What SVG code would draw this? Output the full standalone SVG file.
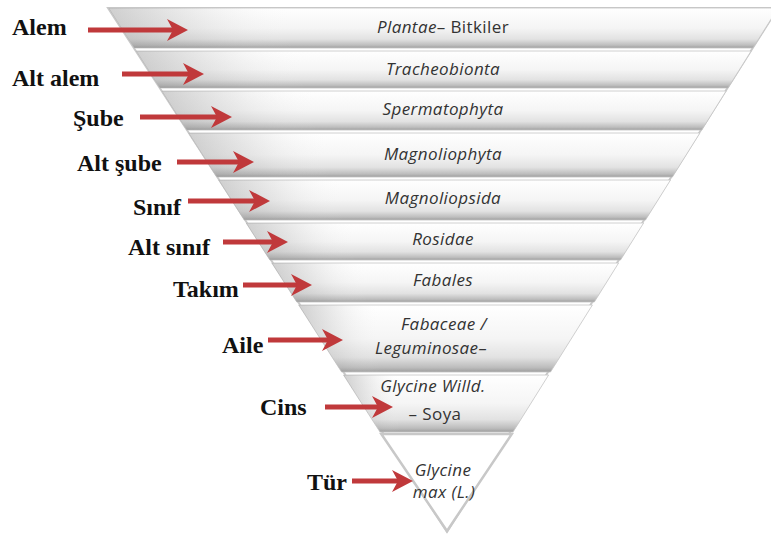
<svg xmlns="http://www.w3.org/2000/svg" width="771" height="537" viewBox="0 0 771 537">
<defs>
<linearGradient id="bandG" x1="0" y1="0" x2="0" y2="1">
<stop offset="0" stop-color="#ffffff"/>
<stop offset="0.5" stop-color="#f5f5f5"/>
<stop offset="0.78" stop-color="#e2e2e2"/>
<stop offset="0.93" stop-color="#bdbdbd"/>
<stop offset="1" stop-color="#9e9e9e"/>
</linearGradient>
<linearGradient id="leftG" x1="0" y1="0" x2="1" y2="0">
<stop offset="0" stop-color="#8a8a8a" stop-opacity="0.4"/>
<stop offset="0.15" stop-color="#9a9a9a" stop-opacity="0.12"/>
<stop offset="0.28" stop-color="#ffffff" stop-opacity="0"/>
</linearGradient>
<marker id="ah" markerUnits="userSpaceOnUse" markerWidth="24" markerHeight="24" viewBox="0 0 24 24" refX="12" refY="12" orient="auto">
<path d="M22,12 L1,1 L7,12 L1,23 Z" fill="#c0393b"/>
</marker>
</defs>
<style>
.band{fill:url(#bandG);stroke:#c4c4c4;stroke-width:0.8}
.shade{fill:url(#leftG)}
.lbl{font-family:"Liberation Serif","Times New Roman",serif;font-weight:bold;font-size:24px;fill:#111}
.tx{font-family:"Open Sans","Liberation Sans",sans-serif;font-style:italic;font-size:17px;letter-spacing:0.4px;fill:#333;text-anchor:middle}
.up{font-style:normal}
.arr{stroke:#c0393b;stroke-width:5;fill:none;marker-end:url(#ah)}
</style>
<rect width="771" height="537" fill="#ffffff"/>
<polygon points="108,8 778,8 447,532" fill="#ffffff" stroke="#c9c9c9" stroke-width="2"/>

<g id="n1"><polygon class="band" points="108.6,8 778,8 753,48 134.2,48"/><polygon class="shade" points="108.6,8 778,8 753,48 134.2,48"/><text class="tx" x="443" y="33">Plantae<tspan class="up">– Bitkiler</tspan></text></g>
<g id="n2"><polygon class="band" points="136.2,51 751.1,51 728,88 159.8,88"/><polygon class="shade" points="136.2,51 751.1,51 728,88 159.8,88"/><text class="tx" x="443" y="75">Tracheobionta</text></g>
<g id="n3"><polygon class="band" points="161.8,91 726.1,91 701.8,130 186.7,130"/><polygon class="shade" points="161.8,91 726.1,91 701.8,130 186.7,130"/><text class="tx" x="443" y="115">Spermatophyta</text></g>
<g id="n4"><polygon class="band" points="188.6,133 699.9,133 672.4,177 216.8,177"/><polygon class="shade" points="188.6,133 699.9,133 672.4,177 216.8,177"/><text class="tx" x="443" y="160">Magnoliophyta</text></g>
<g id="n5"><polygon class="band" points="218.7,180 670.5,180 645.5,220 244.3,220"/><polygon class="shade" points="218.7,180 670.5,180 645.5,220 244.3,220"/><text class="tx" x="443" y="204">Magnoliopsida</text></g>
<g id="n6"><polygon class="band" points="246.2,223 643.6,223 620.5,260 269.9,260"/><polygon class="shade" points="246.2,223 643.6,223 620.5,260 269.9,260"/><text class="tx" x="443" y="245">Rosidae</text></g>
<g id="n7"><polygon class="band" points="271.8,263 618.6,263 594.3,302 296.8,302"/><polygon class="shade" points="271.8,263 618.6,263 594.3,302 296.8,302"/><text class="tx" x="443" y="286">Fabales</text></g>
<g id="n8"><polygon class="band" points="298.7,305 592.4,305 550.5,372 341.6,372"/><polygon class="shade" points="298.7,305 592.4,305 550.5,372 341.6,372"/><text class="tx" x="444" y="330">Fabaceae /</text><text class="tx" x="431" y="354">Leguminosae–</text></g>
<g id="n9"><polygon class="band" points="343.5,375 548.6,375 513,432 380,432"/><polygon class="shade" points="343.5,375 548.6,375 513,432 380,432"/><text class="tx" x="433" y="392">Glycine Willd.</text><text class="tx" x="435" y="420"><tspan class="up">– Soya</tspan></text></g>
<g id="n10"><polygon points="381.3,434 511.8,434 447,531" fill="#ffffff" stroke="#c8c8c8" stroke-width="2.5"/><text class="tx" x="443" y="476">Glycine</text><text class="tx" x="444" y="498">max (L.)</text></g>

<g id="labels">
<text class="lbl" x="12" y="35">Alem</text>
<text class="lbl" x="12" y="86">Alt alem</text>
<text class="lbl" x="73" y="126">Şube</text>
<text class="lbl" x="77" y="171">Alt şube</text>
<text class="lbl" x="133" y="215">Sınıf</text>
<text class="lbl" x="128" y="255">Alt sınıf</text>
<text class="lbl" x="173" y="297">Takım</text>
<text class="lbl" x="222" y="353">Aile</text>
<text class="lbl" x="260" y="415">Cins</text>
<text class="lbl" x="307" y="490">Tür</text>
</g>

<g id="connectors">
<line class="arr" x1="88" y1="30" x2="178" y2="30"/>
<line class="arr" x1="122" y1="74" x2="194" y2="74"/>
<line class="arr" x1="140" y1="117" x2="222" y2="117"/>
<line class="arr" x1="177" y1="162" x2="244" y2="162"/>
<line class="arr" x1="188" y1="201" x2="260" y2="201"/>
<line class="arr" x1="223" y1="242" x2="278" y2="242"/>
<line class="arr" x1="243" y1="285" x2="302" y2="285"/>
<line class="arr" x1="268" y1="340" x2="333" y2="340"/>
<line class="arr" x1="325" y1="407" x2="383" y2="407"/>
<line class="arr" x1="352" y1="481" x2="403" y2="481"/>
</g>
</svg>
